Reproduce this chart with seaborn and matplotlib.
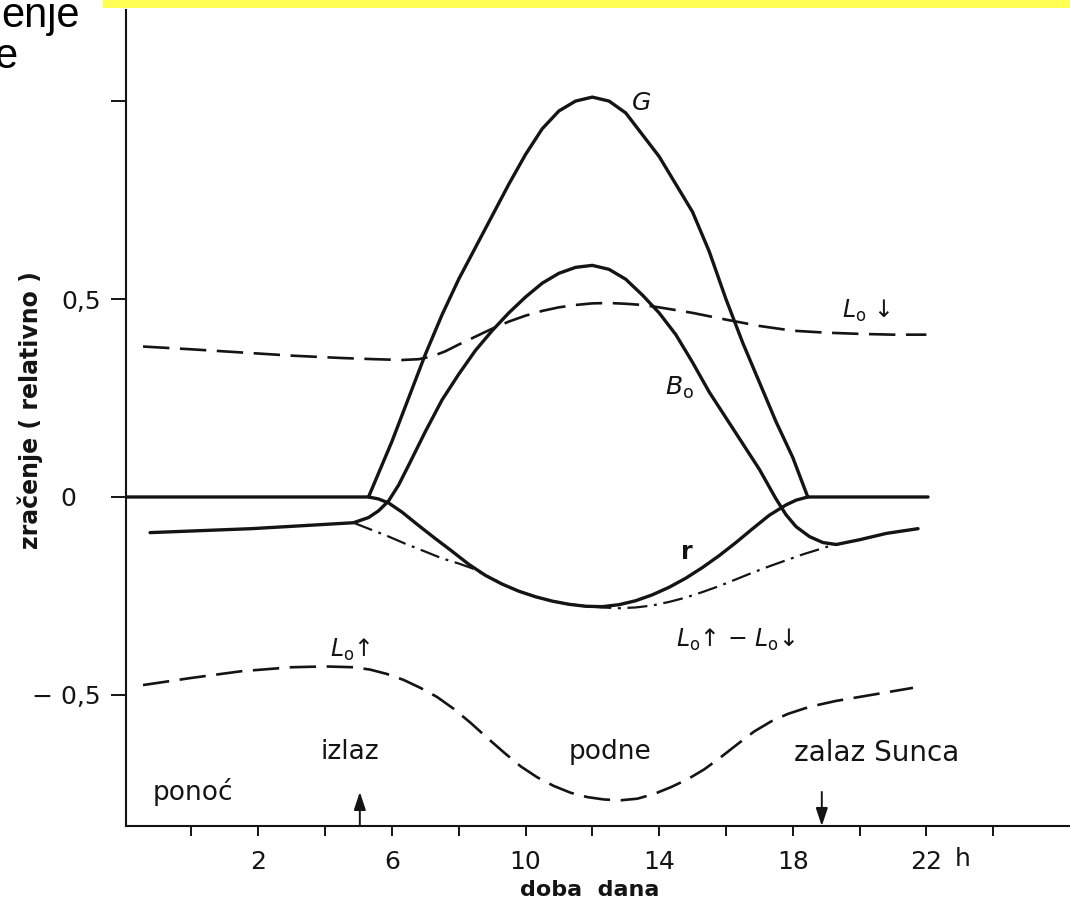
import matplotlib
matplotlib.use("Agg")
import matplotlib.pyplot as plt
import seaborn as sns
from matplotlib.patches import Rectangle

# ---------------- data (hours of day, relative radiation) ----------------
g_hours = [-1.96, 5.3, 5.6, 6.0, 6.5, 7.0, 7.5, 8.0, 8.5, 9.0, 9.5, 10.0, 10.5, 11.0,
           11.5, 12.0, 12.5, 13.0, 13.5, 14.0, 14.5, 15.0, 15.5, 16.0, 16.5, 17.0,
           17.5, 18.0, 18.45, 22.05]
g_vals = [0, 0, 0.06, 0.14, 0.25, 0.36, 0.46, 0.55, 0.63, 0.71, 0.79, 0.865, 0.93,
          0.975, 1.0, 1.01, 1.0, 0.97, 0.915, 0.86, 0.79, 0.72, 0.62, 0.5, 0.39, 0.29,
          0.19, 0.10, 0.0, 0.0]

b_hours = [-1.24, 1.8, 4.85, 5.3, 5.6, 5.9, 6.2, 6.5, 7.0, 7.5, 8.0, 8.5, 9.0, 9.5,
           10.0, 10.5, 11.0, 11.5, 12.0, 12.5, 13.0, 13.5, 14.0, 14.5, 15.0, 15.5,
           16.0, 16.5, 17.0, 17.5, 17.8, 18.1, 18.5, 18.9, 19.3, 20.0, 20.8, 21.75]
b_vals = [-0.09, -0.08, -0.065, -0.052, -0.035, -0.01, 0.03, 0.08, 0.165, 0.245, 0.31,
          0.37, 0.42, 0.465, 0.505, 0.54, 0.565, 0.58, 0.585, 0.575, 0.55, 0.51, 0.465,
          0.41, 0.34, 0.265, 0.20, 0.135, 0.07, -0.005, -0.045, -0.075, -0.10, -0.115,
          -0.12, -0.108, -0.092, -0.08]

r_hours = [5.3, 5.6, 5.9, 6.3, 6.8, 7.3, 7.8, 8.3, 8.8, 9.3, 9.8, 10.3, 10.8, 11.3,
           11.8, 12.3, 12.8, 13.3, 13.8, 14.3, 14.8, 15.3, 15.8, 16.3, 16.8, 17.3,
           17.8, 18.1, 18.45]
r_vals = [0, -0.005, -0.015, -0.038, -0.072, -0.105, -0.137, -0.17, -0.198, -0.22,
          -0.238, -0.252, -0.263, -0.271, -0.276, -0.277, -0.272, -0.262, -0.247,
          -0.228, -0.205, -0.178, -0.148, -0.115, -0.08, -0.046, -0.02, -0.008, 0]

net_hours = [4.85, 5.3, 5.85, 6.4, 7.0, 7.5, 8.0, 8.4, 8.8, 9.3, 9.8, 10.3, 10.8, 11.3,
             11.8, 12.3, 12.8, 13.3, 13.8, 14.3, 14.8, 15.3, 15.8, 16.3, 16.8, 17.3,
             17.8, 18.3, 18.8, 19.2]
net_vals = [-0.065, -0.08, -0.098, -0.118, -0.138, -0.155, -0.168, -0.18, -0.198, -0.22,
            -0.238, -0.252, -0.263, -0.271, -0.276, -0.279, -0.281, -0.279, -0.274,
            -0.265, -0.254, -0.24, -0.225, -0.208, -0.191, -0.175, -0.16, -0.145,
            -0.132, -0.121]

ldown_hours = [-1.45, 0.0, 1.5, 3.0, 4.5, 5.5, 6.3, 6.8, 7.2, 7.6, 8.0, 8.5, 9.0, 9.5,
               10.0, 10.5, 11.0, 11.5, 12.0, 12.5, 13.0, 13.5, 14.0, 15.0, 16.0, 17.0,
               18.0, 19.0, 20.0, 21.0, 22.0]
ldown_vals = [0.38, 0.373, 0.365, 0.357, 0.351, 0.348, 0.346, 0.348, 0.355, 0.368, 0.385,
              0.405, 0.425, 0.443, 0.458, 0.47, 0.479, 0.485, 0.489, 0.49, 0.488, 0.485,
              0.479, 0.465, 0.448, 0.432, 0.42, 0.415, 0.412, 0.41, 0.41]

lup_hours = [-1.45, 0.0, 1.5, 3.0, 4.0, 4.85, 5.35, 5.85, 6.35, 6.85, 7.35, 7.85, 8.35,
             8.85, 9.35, 9.85, 10.35, 10.85, 11.35, 11.85, 12.35, 12.85, 13.35, 13.85,
             14.35, 14.85, 15.35, 15.85, 16.35, 16.85, 17.35, 17.85, 18.5, 19.3, 20.0, 21.6]
lup_vals = [-0.475, -0.457, -0.44, -0.43, -0.428, -0.43, -0.436, -0.447, -0.462, -0.482,
            -0.505, -0.535, -0.57, -0.608, -0.645, -0.68, -0.708, -0.73, -0.747, -0.758,
            -0.764, -0.766, -0.762, -0.75, -0.733, -0.713, -0.688, -0.657, -0.624,
            -0.592, -0.567, -0.548, -0.53, -0.515, -0.505, -0.482]

x_ticks = [0, 2, 4, 6, 8, 10, 12, 14, 16, 18, 20, 22, 24]
x_ticklabels = ["", "2", "", "6", "", "10", "", "14", "", "18", "", "22", ""]
y_ticks = [-0.5, 0, 0.5, 1]
y_ticklabels = ["\u2212 0,5", "0   ", "0,5", ""]
sunrise_h = 5.04
sunset_h = 18.87

# ---------------- figure ----------------
sns.set_theme(style="white")
plt.rcParams["font.family"] = ["DejaVu Sans"]
plt.rcParams["mathtext.fontset"] = "dejavusans"

W, H = 1070, 914
fig = plt.figure(figsize=(W / 100, H / 100), dpi=100)
fig.patch.set_facecolor("white")
ax = fig.add_axes([126 / W, 1 - 826 / H, 1 - 126 / W, (826 - 10) / H])
ax.set_facecolor("white")

ink = "#141414"
solid_lw = 2.4
common = dict(ax=ax, color=ink, sort=False, estimator=None, legend=False)

sns.lineplot(x=g_hours, y=g_vals, linewidth=solid_lw, **common)
sns.lineplot(x=b_hours, y=b_vals, linewidth=solid_lw, **common)
sns.lineplot(x=r_hours, y=r_vals, linewidth=solid_lw, **common)
sns.lineplot(x=net_hours, y=net_vals, linewidth=1.6,
             linestyle=(0, (9, 3, 1.3, 3)), **common)
sns.lineplot(x=ldown_hours, y=ldown_vals, linewidth=1.9,
             linestyle=(0, (10, 4)), **common)
sns.lineplot(x=lup_hours, y=lup_vals, linewidth=1.9,
             linestyle=(0, (10, 4)), **common)
for ln in ax.lines:
    ln.set_solid_joinstyle("round")
    ln.set_solid_capstyle("round")

ax.set_xlim(-1.96, 26.3)
ax.set_ylim(-0.831, 1.23)

for side in ["top", "right"]:
    ax.spines[side].set_visible(False)
for side in ["left", "bottom"]:
    ax.spines[side].set_color(ink)
    ax.spines[side].set_linewidth(1.5)

ax.set_xticks(x_ticks)
ax.set_xticklabels(x_ticklabels)
ax.set_yticks(y_ticks)
ax.set_yticklabels(y_ticklabels)
ax.tick_params(axis="x", direction="out", length=7, width=1.4, color=ink,
               labelsize=18, pad=10, labelcolor=ink, bottom=True)
ax.tick_params(axis="y", direction="out", length=11, width=1.4, color=ink,
               labelsize=18, pad=7, labelcolor=ink, left=True)
ax.grid(False)

# "h" unit after the 22 label
ax.annotate("h", xy=(23.1, 0), xycoords=("data", "axes fraction"),
            xytext=(0, -33), textcoords="offset pixels", ha="center", va="center",
            fontsize=18, color=ink)

# axis labels
ax.text((590 - 126) / (W - 126), (826 - 890) / 816, "doba  dana",
        transform=ax.transAxes, ha="center", va="center", fontsize=16,
        fontweight="bold", color=ink)
fig.text(30 / W, 1 - 410 / H, "zračenje ( relativno )", rotation=90,
         ha="center", va="center", fontsize=17, fontweight="bold", color=ink)

# curve labels
ax.text(13.45, 0.995, r"$G$", fontsize=18, color=ink, ha="center", va="center")
ax.text(14.6, 0.275, r"$B_{\mathrm{o}}$", fontsize=18, color=ink, ha="center", va="center")
ax.text(20.2, 0.47, r"$L_{\mathrm{o}}$ ↓", fontsize=17, color=ink, ha="center", va="center")
ax.text(14.83, -0.14, "r", fontsize=17, color=ink, ha="center", va="center",
        fontweight="bold")
ax.text(16.3, -0.36, r"$L_{\mathrm{o}}$↑ − $L_{\mathrm{o}}$↓", fontsize=17, color=ink,
        ha="center", va="center")
ax.text(4.75, -0.385, r"$L_{\mathrm{o}}$↑", fontsize=17, color=ink, ha="center",
        va="center")

ax.text(4.75, -0.644, "izlaz", fontsize=19, color=ink, ha="center", va="center")
ax.text(12.53, -0.644, "podne", fontsize=19, color=ink, ha="center", va="center")
ax.text(20.5, -0.646, "zalaz Sunca", fontsize=20, color=ink, ha="center", va="center")
ax.text(0.05, -0.745, "ponoć", fontsize=19, color=ink, ha="center", va="center")

# sunrise / sunset arrows
arrow = dict(arrowstyle="-|>,head_length=0.9,head_width=0.3", color=ink, lw=1.4,
             shrinkA=0, shrinkB=0)
ax.annotate("", xy=(sunrise_h, -0.745), xytext=(sunrise_h, -0.831), arrowprops=arrow)
ax.annotate("", xy=(sunset_h, -0.831), xytext=(sunset_h, -0.745), arrowprops=arrow)

# slide remnants: yellow banner and cropped title text
fig.add_artist(Rectangle((103 / W, 1 - 8 / H), 1 - 103 / W, 8 / H,
                         transform=fig.transFigure, facecolor="#FFFF55",
                         edgecolor="none", zorder=5))
fig.text(80 / W, 1 - 27 / H, "enje", ha="right", va="baseline", fontsize=30,
         family="Liberation Sans", color="black")
fig.text(17 / W, 1 - 68 / H, "e", ha="right", va="baseline", fontsize=30,
         family="Liberation Sans", color="black")

fig.savefig("out.png", dpi=100, facecolor="white")
